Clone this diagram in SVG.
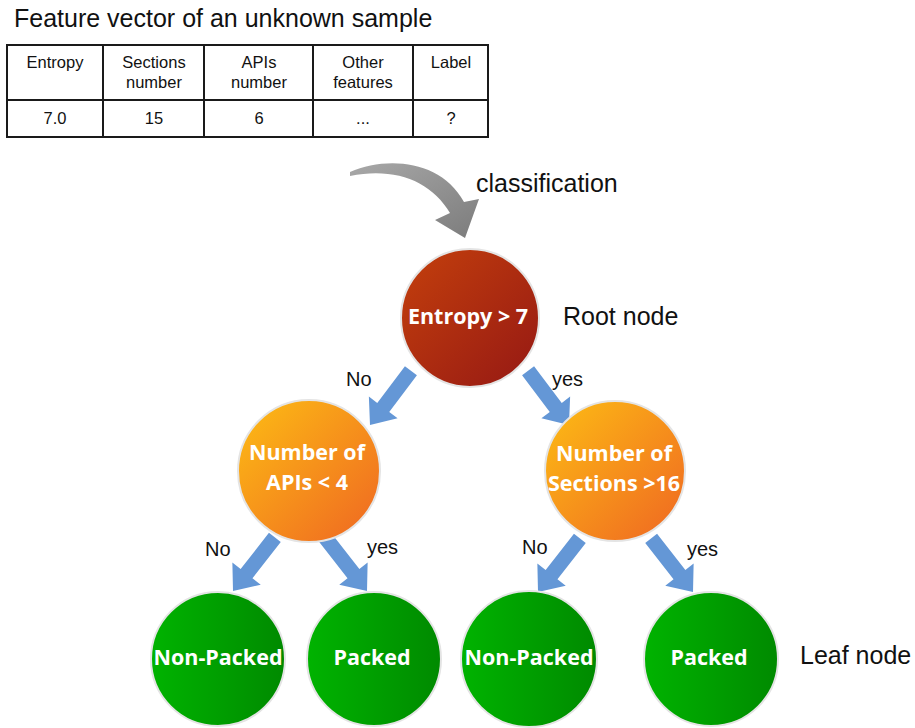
<svg xmlns="http://www.w3.org/2000/svg" width="915" height="728" viewBox="0 0 915 728">
<defs>
<linearGradient id="gRoot" x1="0" y1="0" x2="1" y2="1">
<stop offset="0" stop-color="#c4400c"/>
<stop offset="1" stop-color="#951814"/>
</linearGradient>
<linearGradient id="gMid" x1="0" y1="0" x2="1" y2="1">
<stop offset="0" stop-color="#fdbd14"/>
<stop offset="1" stop-color="#ef6622"/>
</linearGradient>
<linearGradient id="gLeaf" x1="0" y1="0" x2="1" y2="0">
<stop offset="0" stop-color="#00b300"/>
<stop offset="1" stop-color="#008a00"/>
</linearGradient>
<linearGradient id="gGray" x1="0" y1="0" x2="1" y2="1">
<stop offset="0" stop-color="#a8a8a8"/>
<stop offset="1" stop-color="#7c7c7c"/>
</linearGradient>
<path id="arr" d="M-7.5,-68 L7.5,-68 L7.5,-22 L18,-22 L0,0 L-18,-22 L-7.5,-22 Z"/>
</defs>
<style>
.t{font-family:"Liberation Sans",Arial,sans-serif;fill:#111}
.tbl{font-size:16.5px;text-anchor:middle}
.lbl{font-size:20px}
.big{font-size:25px}
.nt{font-family:"Open Sans","Noto Sans",sans-serif;font-weight:bold;font-size:21.5px;fill:#fff;text-anchor:middle}
.node{stroke:#e4e4e4;stroke-width:2}
.ar{fill:#6497d6}
.grid{fill:none;stroke:#1a1a1a;stroke-width:2}
</style>
<rect width="915" height="728" fill="#fff"/>

<g id="title">
<text class="t big" x="14" y="27">Feature vector of an unknown sample</text>
</g>

<g id="table">
<rect class="grid" x="7" y="45" width="481" height="92"/>
<line class="grid" x1="7" y1="100" x2="488" y2="100"/>
<line class="grid" x1="103" y1="45" x2="103" y2="137"/>
<line class="grid" x1="204" y1="45" x2="204" y2="137"/>
<line class="grid" x1="313" y1="45" x2="313" y2="137"/>
<line class="grid" x1="413" y1="45" x2="413" y2="137"/>
<text class="t tbl" x="55" y="68">Entropy</text>
<text class="t tbl" x="154" y="68">Sections</text>
<text class="t tbl" x="154" y="88">number</text>
<text class="t tbl" x="259" y="68">APIs</text>
<text class="t tbl" x="259" y="88">number</text>
<text class="t tbl" x="363" y="68">Other</text>
<text class="t tbl" x="363" y="88">features</text>
<text class="t tbl" x="451" y="68">Label</text>
<text class="t tbl" x="55" y="124">7.0</text>
<text class="t tbl" x="154" y="124">15</text>
<text class="t tbl" x="259" y="124">6</text>
<text class="t tbl" x="363" y="124">...</text>
<text class="t tbl" x="451" y="124">?</text>
</g>

<g id="classify-arrow">
<path d="M350,172 C387,156 441,160 464,202 L479,199 L465,238 L435,220 L450,213 C431,181 395,167 350,176 Z" fill="url(#gGray)"/>
<text class="t big" x="476" y="192">classification</text>
</g>

<g id="connectors">
<use href="#arr" class="ar" transform="translate(370,425) rotate(37)"/>
<use href="#arr" class="ar" transform="translate(569,425) rotate(-37)"/>
<use href="#arr" class="ar" transform="translate(233,591) rotate(38)"/>
<use href="#arr" class="ar" transform="translate(367,591) rotate(-38)"/>
<use href="#arr" class="ar" transform="translate(538,592) rotate(38)"/>
<use href="#arr" class="ar" transform="translate(693,592) rotate(-38)"/>
<text class="t lbl" x="346" y="386">No</text>
<text class="t lbl" x="552" y="386">yes</text>
<text class="t lbl" x="205" y="556">No</text>
<text class="t lbl" x="367" y="554">yes</text>
<text class="t lbl" x="522" y="554">No</text>
<text class="t lbl" x="687" y="556">yes</text>
</g>

<g id="root">
<circle class="node" cx="470" cy="318" r="69" fill="url(#gRoot)"/>
<text class="nt" x="468" y="324">Entropy &gt; 7</text>
</g>
<text class="t big" x="563" y="325">Root node</text>

<g id="mid-left">
<circle class="node" cx="309" cy="471" r="71" fill="url(#gMid)"/>
<text class="nt" x="307" y="460">Number of</text>
<text class="nt" x="307" y="490">APIs &lt; 4</text>
</g>

<g id="mid-right">
<circle class="node" cx="615" cy="471" r="70" fill="url(#gMid)"/>
<text class="nt" x="614" y="461">Number of</text>
<text class="nt" x="614" y="491">Sections &gt;16</text>
</g>

<g id="leaf1">
<circle class="node" cx="218" cy="659" r="67" fill="url(#gLeaf)"/>
<text class="nt" x="218" y="665">Non-Packed</text>
</g>
<g id="leaf2">
<circle class="node" cx="374" cy="659" r="67" fill="url(#gLeaf)"/>
<text class="nt" x="372" y="665">Packed</text>
</g>
<g id="leaf3">
<circle class="node" cx="529" cy="659" r="68" fill="url(#gLeaf)"/>
<text class="nt" x="529" y="665">Non-Packed</text>
</g>
<g id="leaf4">
<circle class="node" cx="711" cy="659" r="67" fill="url(#gLeaf)"/>
<text class="nt" x="709" y="665">Packed</text>
</g>
<text class="t" x="800" y="664" font-size="25">Leaf node</text>
</svg>
